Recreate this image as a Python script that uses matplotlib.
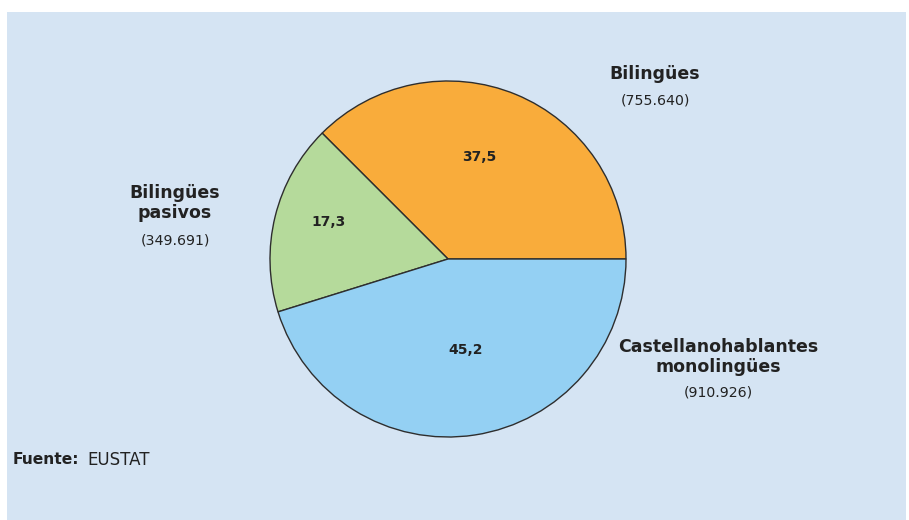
import matplotlib.pyplot as plt
from matplotlib.patches import Rectangle

# data
categories = ['Bilingües', 'Bilingües\npasivos', 'Castellanohablantes\nmonolingües']
shares = [37.5, 17.3, 45.2]
people = ['(755.640)', '(349.691)', '(910.926)']
colors = ['#F9AC3B', '#B5DA9B', '#94D0F3']

W, H = 909, 520
fig = plt.figure(figsize=(W / 100, H / 100), dpi=100, facecolor='white')
ax = fig.add_axes([0, 0, 1, 1])

# light blue panel
ax.add_patch(Rectangle((7, 0), W - 10, H - 12, facecolor='#D5E4F3', edgecolor='none', zorder=0))

cx, cy, r = 448, H - 259, 178
wedges, _ = ax.pie(shares, colors=colors, startangle=0, counterclock=True,
                   center=(cx, cy), radius=r, frame=True,
                   wedgeprops=dict(edgecolor='#2e2e2e', linewidth=1.0))
ax.set_xlim(0, W)
ax.set_ylim(0, H)
ax.set_aspect('equal')
ax.axis('off')

font = 'DejaVu Sans'
dark = '#222222'

# percentage labels inside slices
pct_pos = [(479, 157), (329, 222), (466, 350)]
for v, (x, y) in zip(shares, pct_pos):
    ax.text(x, H - y, f'{v:.1f}'.replace('.', ','), ha='center', va='center',
            fontsize=10, fontweight='bold', family=font, color=dark)

# outside labels
lab_pos = [(655, 74, 101), (175, 203, 240), (718, 357, 393)]
for name, n, (x, y1, y2) in zip(categories, people, lab_pos):
    ax.text(x, H - y1, name, ha='center', va='center', fontsize=12.5,
            fontweight='bold', family=font, color=dark, linespacing=1.1)
    ax.text(x, H - y2, n, ha='center', va='center', fontsize=10.2,
            family=font, color=dark)

ax.text(13, H - 460, 'Fuente:', ha='left', va='center', fontsize=11.2,
        fontweight='bold', family=font, color=dark)
ax.text(87, H - 460, 'EUSTAT', ha='left', va='center', fontsize=12,
        family=font, color=dark)

fig.savefig('out.png', dpi=100, facecolor='white')
